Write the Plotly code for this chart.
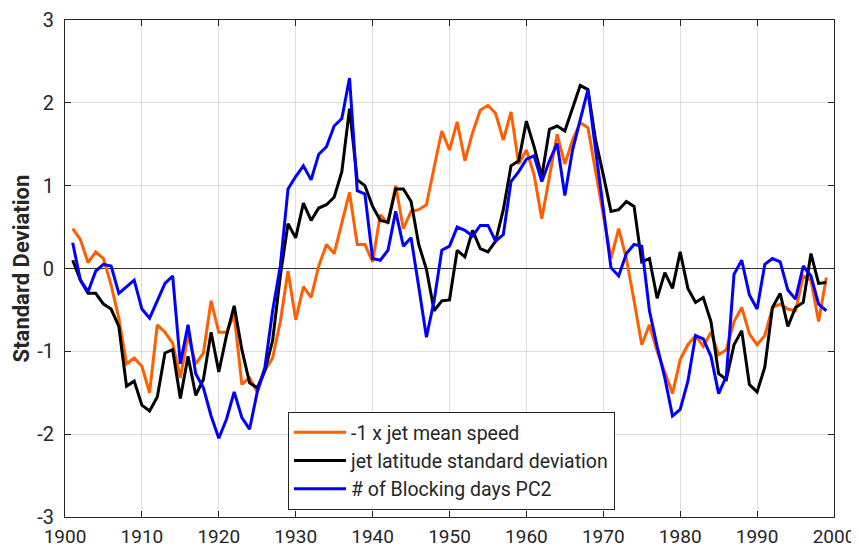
import plotly.graph_objects as go

years = list(range(1901, 2000))

jet_speed_neg = [
    0.48, 0.35, 0.07, 0.20, 0.12, -0.20, -0.60, -1.15, -1.08, -1.18,
    -1.50, -0.68, -0.77, -0.90, -1.32, -0.80, -1.15, -1.02, -0.39, -0.77,
    -0.77, -0.56, -1.40, -1.32, -1.49, -1.23, -1.08, -0.64, -0.03, -0.62,
    -0.22, -0.35, 0.03, 0.29, 0.18, 0.56, 0.92, 0.29, 0.29, 0.08,
    0.65, 0.54, 1.00, 0.48, 0.69, 0.71, 0.77, 1.22, 1.66, 1.43,
    1.77, 1.30, 1.64, 1.91, 1.97, 1.87, 1.55, 1.89, 1.26, 1.43,
    1.13, 0.60, 1.13, 1.62, 1.26, 1.55, 1.76, 1.70, 1.17, 0.62,
    0.12, 0.48, 0.12, -0.39, -0.92, -0.68, -1.00, -1.25, -1.51, -1.10,
    -0.92, -0.81, -0.94, -0.77, -1.04, -0.98, -0.64, -0.47, -0.79, -0.92,
    -0.81, -0.47, -0.43, -0.49, -0.51, -0.09, -0.14, -0.64, -0.11,
]

jet_lat_std = [
    0.10, -0.14, -0.30, -0.30, -0.43, -0.49, -0.70, -1.42, -1.36, -1.65,
    -1.72, -1.55, -1.02, -0.98, -1.57, -1.06, -1.53, -1.34, -0.77, -1.25,
    -0.81, -0.45, -0.98, -1.38, -1.44, -1.23, -0.87, -0.09, 0.54, 0.37,
    0.79, 0.58, 0.73, 0.77, 0.86, 1.17, 1.93, 1.07, 1.00, 0.75,
    0.58, 0.56, 0.96, 0.96, 0.81, 0.29, -0.01, -0.51, -0.39, -0.38,
    0.22, 0.14, 0.46, 0.24, 0.20, 0.33, 0.71, 1.24, 1.30, 1.78,
    1.47, 1.11, 1.68, 1.72, 1.66, 1.93, 2.21, 2.16, 1.55, 1.13,
    0.69, 0.71, 0.81, 0.75, 0.08, 0.12, -0.36, -0.05, -0.24, 0.20,
    -0.24, -0.41, -0.35, -0.64, -1.27, -1.34, -0.92, -0.75, -1.40, -1.49,
    -1.19, -0.47, -0.30, -0.70, -0.47, -0.41, 0.18, -0.18, -0.17,
]

blocking_pc2 = [
    0.31, -0.14, -0.28, -0.03, 0.05, 0.03, -0.30, -0.22, -0.14, -0.49,
    -0.60, -0.39, -0.18, -0.09, -1.15, -0.68, -1.27, -1.44, -1.78, -2.05,
    -1.82, -1.49, -1.80, -1.94, -1.49, -1.19, -0.51, 0.03, 0.96, 1.11,
    1.24, 1.07, 1.38, 1.47, 1.72, 1.81, 2.30, 0.94, 0.90, 0.12,
    0.10, 0.22, 0.69, 0.27, 0.37, -0.22, -0.83, -0.39, 0.22, 0.27,
    0.50, 0.46, 0.39, 0.52, 0.52, 0.33, 0.41, 1.05, 1.17, 1.32,
    1.36, 1.05, 1.30, 1.51, 0.88, 1.43, 1.78, 2.16, 1.43, 0.71,
    0.01, -0.09, 0.18, 0.29, 0.27, -0.51, -0.94, -1.32, -1.78, -1.70,
    -1.36, -0.81, -0.85, -1.06, -1.51, -1.30, -0.07, 0.10, -0.32, -0.49,
    0.05, 0.12, 0.08, -0.26, -0.37, 0.03, -0.09, -0.43, -0.51,
]

series_names = [
    "-1 x jet mean speed",
    "jet latitude standard deviation",
    "# of Blocking days PC2",
]
series_colors = ["#FF5F00", "#000000", "#0000FF"]

x_ticks = list(range(1900, 2001, 10))
x_tick_labels = [str(v) for v in x_ticks]
y_ticks = [-3, -2, -1, 0, 1, 2, 3]
y_tick_labels = ["-3", "-2", "-1", "0", "1", "2", "3"]

fig = go.Figure()
for name, vals, col in zip(series_names,
                           [jet_speed_neg, jet_lat_std, blocking_pc2],
                           series_colors):
    fig.add_trace(go.Scatter(
        x=years, y=vals, mode="lines", name=name,
        line=dict(color=col, width=3),
    ))

axis_common = dict(
    showline=True, linecolor="#262626", linewidth=1, mirror="ticks",
    ticks="inside", ticklen=6, tickcolor="#262626", tickwidth=1,
    showgrid=True, gridcolor="#DEDEDE", gridwidth=1,
    automargin=False,
)

# The page body adds an 8px offset; margins compensate so the plot area
# lands at x 65-834, y 20-517 in the 859x548 window.
fig.update_layout(
    width=859, height=548,
    margin=dict(l=57, r=33, t=12, b=39),
    paper_bgcolor="white", plot_bgcolor="white",
    font=dict(family="Roboto", color="#262626"),
    showlegend=True,
    legend=dict(
        x=0.29, y=0.2113, xanchor="left", yanchor="top",
        bgcolor="white", bordercolor="#262626", borderwidth=1,
        font=dict(family="Roboto", size=19.5, color="#262626"),
        tracegroupgap=0, itemwidth=52,
    ),
    xaxis=dict(
        range=[1900, 2000], tickvals=x_ticks, ticktext=x_tick_labels,
        zeroline=False, ticklabelstandoff=2,
        tickfont=dict(family="Roboto", size=19, color="#262626"),
        **axis_common,
    ),
    yaxis=dict(
        range=[-3, 3], tickvals=y_ticks, ticktext=y_tick_labels,
        zeroline=True, zerolinecolor="#333333", zerolinewidth=1,
        ticklabelstandoff=6,
        tickfont=dict(family="Roboto", size=20, color="#262626"),
        title=dict(text="<b>Standard Deviation</b>",
                   font=dict(family="Roboto", size=22, color="#262626"),
                   standoff=1),
        **axis_common,
    ),
)

fig.write_html("out.html")
